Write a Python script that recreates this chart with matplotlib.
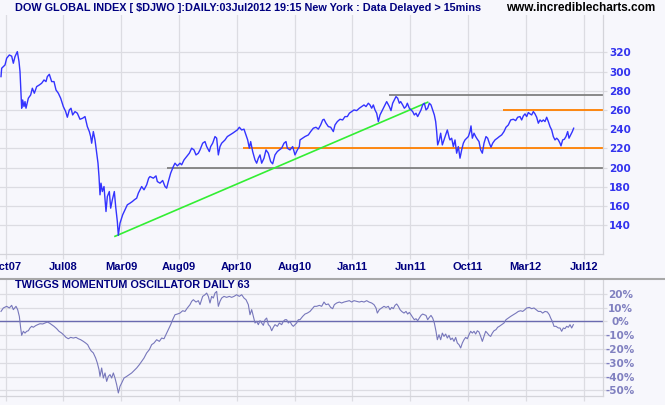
import matplotlib
matplotlib.use('Agg')
import matplotlib.pyplot as plt
from matplotlib.lines import Line2D
import numpy as np

# ---------------- data ----------------
# price samples: (session index, index value)
price_a = [(3,294.7),(5,303.4),(15,306.8),(20,313.8),(28,317.2),(35,316),(40,308.6),(45,315.5),
           (52,320.7),(57,310.3),(60,300),(63,277.4),(65,261.8),(68,270.4),(72,263.5),(75,268.7),
           (78,261.8),(85,272.2),(92,275.6),(97,282.6),(103,277.4),(110,284.3),(118,286),(125,287.8),
           (132,291.2),(138,289.5),(142,294.7),(148,297.1),(155,289.5),(162,289.5),(168,280.8),
           (175,277.4),(182,272.2),(190,263.5),(197,258.3),(202,252.4),(208,260),(213,261.8),
           (218,254.8),(225,258.3),(232,256.6),(240,250.3),(248,251.4),(255,253.1),(262,242.7),
           (268,237.5),(272,232.3),(275,225.4),(280,237.5),(285,228.8),(290,215),(294,204.6),
           (297,190.7),(300,171.7),(303,183.8),(307,175.1),(312,180.3),(318,154.3),(322,169.9),
           (328,175.1),(332,157.8),(337,166.5),(343,175.1),(347,159.5),(352,143.9),(355,129.5),
           (360,142.2),(368,150.9),(375,156),(382,161.3),(390,163),(397,164.7),(403,166.5),
           (410,168.2),(415,173.4),(420,176.9),(425,180.3),(432,176.9),(440,182.1),(446,189)]
price_b = [(450,190.7),(460,189),(468,191.4),(472,185.5),(480,183.8),(488,186.6),(495,180.3),
           (500,178.6),(505,185.5),(512,194.2),(520,201.1),(525,204.6),(532,201.8),(540,204.6),
           (545,202.9),(552,208),(560,211.5),(568,215),(575,220.2),(582,218.4),(588,213.2),
           (595,215),(600,218.4),(608,225.4),(615,227.1),(620,221.9),(628,216.7),(632,221.9),
           (638,225.4),(645,232.3),(650,230.6),(655,213.2),(660,221.9),(665,225.4),(670,227.1),
           (675,228.8),(682,232.3),(690,234),(698,235.8),(705,237.5),(712,239.2),(718,242),
           (725,239.2),(732,240),(738,234),(743,228.8),(748,220.2),(752,227.1),(758,216.7),
           (765,208),(770,204.6),(775,209.8),(780,213.2),(785,204.6),(792,209.8),(798,218.4),
           (805,215),(812,206.3),(818,203.9),(825,213.2),(832,216.7),(838,218.4),(845,220.2),
           (852,225.4),(858,227.1),(862,220.2),(870,218.4),(878,221.9),(885,213.2),(892,218.4),
           (898,221.9)]
price_c = [(900,228.8),(908,230.6),(915,232.3),(925,234),(932,237.5),(940,241),(948,242),
           (955,240),(962,244.4),(968,249.6),(972,250.3),(978,246.2),(985,242.7),(992,242),
           (1000,237.5),(1005,244.4),(1012,247.9),(1020,250.3),(1028,249.6),(1035,253.1),
           (1042,253.1),(1048,256.6),(1055,258.3),(1062,260),(1070,259.3),(1078,261.8),
           (1085,263.5),(1092,265.2),(1098,263.5),(1105,267),(1110,265.2),(1115,261.8),
           (1120,265.2),(1125,260),(1130,256.6),(1135,247.9),(1140,254.8),(1145,258.3),
           (1150,261.8),(1155,265.2),(1160,268.7),(1168,263.5),(1173,259.3),(1178,267),
           (1183,270.4),(1188,273.9),(1193,272.2),(1198,267),(1202,268.7),(1208,265.2),
           (1213,261.8),(1218,263.5),(1222,267),(1228,261.8),(1233,260),(1238,258.3),
           (1243,254.8),(1248,256.6),(1253,253.1),(1258,256.6),(1263,260),(1268,265.2),
           (1273,267),(1278,260),(1283,261.8),(1288,267),(1293,265.2),(1298,260),(1303,254.8),
           (1307,247.9),(1310,237.5),(1313,223.6),(1318,228.8),(1322,235.8),(1327,223.6),
           (1332,228.8),(1337,234),(1342,239.2),(1348,230.6)]
price_d = [(1350,228.8),(1355,230.6),(1360,221.9),(1365,228.8),(1370,215),(1375,221.9),
           (1380,209.8),(1385,218.4),(1390,225.4),(1395,228.8),(1400,230.6),(1405,232.3),
           (1410,237.5),(1413,243.4),(1417,230.6),(1422,235.8),(1427,232.3),(1432,229.5),
           (1437,227.1),(1442,218.4),(1447,215),(1452,225.4),(1458,232.3),(1463,230.6),
           (1468,225.4),(1473,221.2),(1478,225.4),(1485,228.8),(1492,230.6),(1498,232.3),
           (1505,234),(1512,237.5),(1518,242),(1525,244.4),(1532,249.6),(1540,250.3),
           (1547,248.9),(1553,252.4),(1560,253.1),(1565,249.6),(1570,253.8),(1575,255.9),
           (1580,253.1),(1585,257.3),(1590,255.9),(1595,254.8),(1600,258.3),(1605,255.9),
           (1610,252.4),(1615,246.2),(1620,249.6),(1625,247.9),(1630,249.6),(1635,247.9),
           (1640,252.4),(1645,247.9),(1650,242.7),(1655,239.2),(1660,232.3),(1665,228.8),
           (1670,230.6),(1675,228.8),(1680,225.4),(1683,222.6),(1688,228.8),(1693,229.5),
           (1698,232.3),(1703,237.5),(1707,230.6),(1712,234),(1717,237.5),(1721,241)]

# Twiggs momentum oscillator samples: (session index, percent)
osc_a = [(3,7.2),(10,9.7),(20,10.9),(28,9.7),(35,11.6),(40,8.5),(48,10.9),(53,8.5),(58,3.6),
         (62,-4.8),(65,-10.1),(70,-7.2),(75,-8.5),(80,-7.2),(85,-6.8),(90,-4.8),(95,-3.6),
         (100,-4.3),(107,-3.1),(113,-2.4),(120,-1.7),(128,-1.9),(135,-1.2),(142,-0.5),(148,-1.2),
         (155,-2.4),(162,-3.6),(170,-5.3),(177,-7.2),(185,-8.5),(192,-10.1),(198,-11.6),
         (205,-12.6),(212,-11.6),(220,-12.1),(228,-11.6),(235,-12.6),(242,-13.3),(250,-14.5),
         (257,-15.7),(263,-16.9),(268,-19.3),(273,-21.3),(280,-22.9),(287,-26.6),(292,-30.2),
         (297,-35),(300,-39.9),(305,-33.8),(310,-41.1),(315,-37.4),(320,-43.5),(325,-39.9),
         (330,-38.6),(335,-41.1),(340,-37.4),(345,-41.1),(350,-45.9),(355,-51.9),(360,-47.1),
         (365,-44.7),(372,-41.1),(380,-39.9),(388,-38.6),(395,-37.4),(402,-35.7),(410,-33.8),
         (418,-31.4),(425,-29),(432,-26.6),(440,-22.9),(448,-20.5),(455,-16.9),(462,-15.7),
         (470,-13.3),(478,-14.5),(485,-12.1),(492,-12.6),(500,-8.5),(505,-6),(512,-2.4),
         (518,1.2),(525,4.8),(532,5.3),(540,6),(548,7.7),(555,7.2),(562,9.7),(570,12.1),
         (575,14.5),(580,15.7),(588,14),(595,15),(600,12.1),(608,18.1),(615,19.3),(620,20.5),
         (625,18.1),(630,13.3),(635,18.1),(640,16.9),(645,20.5),(650,21.7),(655,10.9),
         (660,14.5),(665,16.9),(672,18.1),(680,17.4),(688,18.1),(695,17.4),(702,18.1),
         (710,19.3),(718,18.1),(725,19.3),(732,16.9),(738,15.7),(745,12.1),(750,4.8),(755,8.5),
         (760,3.6),(765,-1.2),(770,0),(775,-2.4),(780,0.5),(785,-1.2),(790,-2.9),(795,1.2),
         (800,2.4),(805,-2.4),(810,-3.6),(815,-6.8),(820,-4.3),(825,-2.4),(832,-3.6),
         (838,-1.2),(845,-2.4),(850,0),(855,1.2),(860,1.2),(865,-1.2),(870,0),(875,-2.4),
         (880,-3.6),(885,-2.4),(890,-1.2),(895,1.2)]
osc_b = [(900,1.2),(908,3.6),(915,5.3),(922,6),(930,7.2),(937,9.2),(943,10.9),(950,10.9),
         (958,11.6),(965,10.9),(972,14),(978,12.1),(985,12.6),(992,10.1),(998,9.2),(1003,12.1),
         (1010,13.3),(1018,14),(1025,13.3),(1032,14),(1040,14.5),(1048,15),(1055,14),(1062,15),
         (1070,14.5),(1078,14),(1085,14.5),(1092,14),(1100,15),(1107,14),(1115,13.3),(1122,12.1),
         (1128,9.7),(1132,6),(1138,8.5),(1145,9.7),(1152,10.9),(1158,10.1),(1165,10.9),
         (1170,8.5),(1175,10.1),(1180,9.2),(1185,11.6),(1190,12.6),(1195,10.9),(1200,8.5),
         (1205,7.2),(1212,6),(1218,7.2),(1223,5.3),(1228,6.5),(1233,4.8),(1238,2.9),(1243,1.2),
         (1248,1.9),(1253,0.5),(1258,2.4),(1263,4.3),(1268,5.3),(1273,4.8),(1278,4.3),
         (1283,1.2),(1288,2.9),(1293,4.3),(1298,2.4),(1303,-1.2),(1308,-7.2),(1312,-13.3),
         (1317,-9.7),(1322,-13.3),(1327,-8.5),(1332,-10.9),(1337,-9.2),(1342,-12.1),
         (1347,-10.1),(1352,-13.3),(1357,-12.1),(1362,-14.5),(1367,-11.6),(1372,-15.7),
         (1377,-16.9),(1382,-19.3),(1387,-15.7),(1392,-13.3),(1397,-11.6),(1402,-12.6),
         (1407,-9.7),(1412,-7.2),(1417,-8.5),(1422,-7.2),(1427,-9.2),(1432,-6.8),(1437,-7.7),
         (1442,-10.9),(1447,-14.5),(1452,-10.9),(1457,-7.2),(1462,-8.5),(1467,-10.1),
         (1472,-10.9),(1477,-8.5),(1482,-6.8),(1488,-6),(1493,-4.3),(1498,-3.6),(1505,-2.4),
         (1512,-1.2),(1518,1.2),(1525,2.4),(1532,3.6),(1540,4.8),(1548,6),(1555,7.2),(1562,7.7),
         (1568,7.2),(1575,8.5),(1580,9.7),(1588,10.1),(1595,9.2),(1602,9.7),(1608,8.5),
         (1615,7.2),(1622,7.2),(1628,6),(1635,7.2),(1642,6.8),(1648,4.8),(1652,2.4),(1657,0),
         (1662,-3.6),(1668,-3.6),(1675,-4.8),(1680,-4.8),(1685,-7.2),(1690,-4.8),(1695,-5.3),
         (1700,-3.6),(1705,-4.3),(1710,-2.4),(1715,-4.8),(1720,-2.4)]

date_labels = ['Oct07', 'Jul08', 'Mar09', 'Aug09', 'Apr10', 'Aug10',
               'Jan11', 'Jun11', 'Oct11', 'Mar12', 'Jul12']
price_ticks = [140, 160, 180, 200, 220, 240, 260, 280, 300, 320]
osc_ticks = [20, 10, 0, -10, -20, -30, -40, -50]

# horizontal support / resistance levels and their starting sessions
level_values = [275.5, 260, 220, 200]
level_starts = [1168, 1510, 730, 502]
# trend line endpoints
trend_t = [345, 1283]
trend_v = [128.5, 268]

title = 'DOW GLOBAL INDEX [ $DJWO ]:DAILY:03Jul2012 19:15 New York : Data Delayed > 15mins'
site = 'www.incrediblecharts.com'
osc_title = 'TWIGGS MOMENTUM OSCILLATOR DAILY 63'

# ---------------- style ----------------
W, H = 665, 405
BG = '#F7F7FC'
GRID = '#DCDCE2'
NAVY = '#000080'
NARROW = ['Liberation Sans Narrow', 'Liberation Sans', 'DejaVu Sans']
level_colors = ['#808080', '#FF8000', '#FF8000', '#808080']
X_END = 1809
tick0, tick_step = 17, 173.4

price = price_a + price_b + price_c + price_d
osc = osc_a + osc_b
pt = np.array([p[0] for p in price]); pv = np.array([p[1] for p in price])
ot = np.array([p[0] for p in osc]); ov = np.array([p[1] for p in osc])
xticks = [tick0 + tick_step * i for i in range(len(date_labels))]

fig = plt.figure(figsize=(W / 100, H / 100), dpi=100, facecolor=BG)

def fy(px):
    return 1 - px / H

ax1 = fig.add_axes([0, fy(254), 603 / W, (254 - 15) / H], facecolor=BG)
ax2 = fig.add_axes([0, fy(396), 603 / W, (396 - 279) / H], facecolor=BG)

for ax in (ax1, ax2):
    ax.set_xlim(0, X_END)
    ax.set_xticks(xticks)
    ax.grid(True, color=GRID, lw=0.9, zorder=0)
    ax.set_axisbelow(True)
    for s in ('top', 'left'):
        ax.spines[s].set_visible(False)
    for s in ('right', 'bottom'):
        ax.spines[s].set_color('#D4D4DA')
        ax.spines[s].set_linewidth(0.9)
    ax.yaxis.tick_right()
    ax.tick_params(axis='both', color=GRID, width=0.9, length=3.6, direction='out')

# upper panel
ax1.set_ylim(110.1, 358.8)
ax1.set_yticks(price_ticks)
ax1.set_yticklabels([str(v) for v in price_ticks])
ax1.set_xticklabels(date_labels)
ax1.tick_params(axis='y', labelsize=7.5, labelcolor='#3333EE', pad=1.5, length=3)
ax1.tick_params(axis='x', labelsize=8, labelcolor=NAVY, pad=2.5)
for lbl in ax1.get_yticklabels():
    lbl.set_fontweight('bold')
for lbl in ax1.get_xticklabels():
    lbl.set_fontweight('bold'); lbl.set_family(NARROW)

for v, s, c in zip(level_values, level_starts, level_colors):
    ax1.plot([s, X_END], [v, v], color=c, lw=1.3, zorder=2, solid_capstyle='butt')
ax1.plot(trend_t, trend_v, color='#33EE33', lw=1.2, zorder=2)
ax1.plot(pt, pv, color='#3333FF', lw=1.0, zorder=3)

# lower panel
ax2.set_ylim(-54.1, 30.7)
ax2.set_yticks(osc_ticks)
ax2.set_yticklabels([f'{v}%' for v in osc_ticks])
ax2.set_xticklabels([])
ax2.tick_params(axis='y', labelsize=7.5, labelcolor='#8080C0', pad=9.5, length=3)
for lbl in ax2.get_yticklabels():
    lbl.set_fontweight('bold'); lbl.set_horizontalalignment('center')
ax2.axhline(0, color='#6A6AB0', lw=1.0, zorder=2)
ax2.plot(ot, ov, color='#7777BB', lw=0.8, zorder=3)

# separator and texts
fig.add_artist(Line2D([0, 1], [fy(279), fy(279)], transform=fig.transFigure,
                      color='#A8A8A8', lw=1.5))
fig.text(15 / W, fy(8), title, ha='left', va='center', fontsize=7.8,
         fontweight='bold', color=NAVY, family=NARROW)
fig.text(655 / W, fy(8), site, ha='right', va='center', fontsize=8.5,
         fontweight='bold', color='black', family=['Liberation Sans', 'DejaVu Sans'])
fig.text(15 / W, fy(285), osc_title, ha='left', va='center', fontsize=7.8,
         fontweight='bold', color=NAVY, family=NARROW)

fig.savefig('out.png', dpi=100, facecolor=BG)
